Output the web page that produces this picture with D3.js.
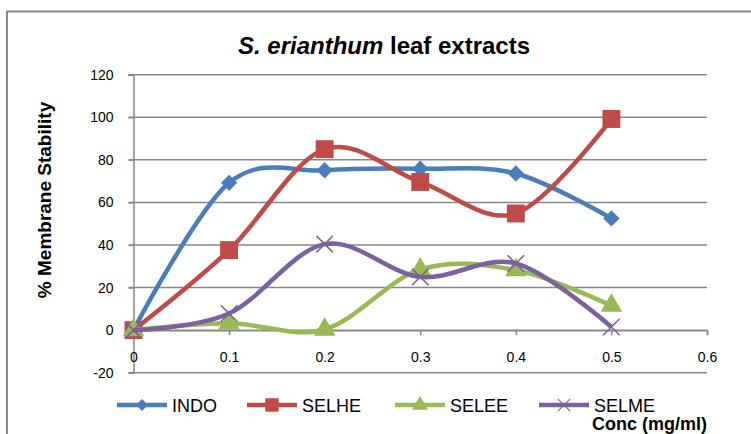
<!DOCTYPE html>
<html>
<head>
<meta charset="utf-8">
<script src="https://cdn.jsdelivr.net/npm/d3@7"></script>
<style>
  html, body { margin: 0; padding: 0; background: #fff; }
  svg { display: block; font-family: "Liberation Sans", Arial, sans-serif; }
</style>
</head>
<body>
<svg id="chart" width="751" height="434"></svg>
<script>
// data
const conc = [0, 0.1, 0.2, 0.3, 0.4, 0.5];
const indo  = [0, 69.2, 75.1, 75.8, 73.6, 52.5];
const selhe = [0, 37.6, 85, 69.6, 54.8, 99.2];
const selee = [0, 3.2, 0.3, 28.5, 28.2, 11.5];
const selme = [0, 7.8, 40.4, 25, 31.3, 1.5];

const seriesNames = ["INDO", "SELHE", "SELEE", "SELME"];
const seriesValues = [indo, selhe, selee, selme];
const colors = ["#4a7ebb", "#be4b48", "#98b954", "#7d60a0"];
const markers = ["diamond", "square", "triangle", "cross"];

const xTicks = [0, 0.1, 0.2, 0.3, 0.4, 0.5, 0.6];
const yTicks = [-20, 0, 20, 40, 60, 80, 100, 120];

const svg = d3.select("#chart");

// outer chart frame (cropped at right/bottom)
svg.append("path")
  .attr("d", "M7,434 V11.5 H751")
  .attr("fill", "none")
  .attr("stroke", "#888")
  .attr("stroke-width", 2);

const x = d3.scaleLinear().domain([0, 0.6]).range([133.5, 707]);
const y = d3.scaleLinear().domain([-20, 120]).range([372.7, 74.7]);

// gridlines
svg.append("g")
  .selectAll("line")
  .data(yTicks)
  .join("line")
  .attr("x1", x(0) - 5).attr("x2", x(0.6))
  .attr("y1", d => y(d)).attr("y2", d => y(d))
  .attr("stroke", "#878787")
  .attr("stroke-width", 1.5);

// y axis
const yAxis = svg.append("g")
  .attr("transform", `translate(${x(0)},0)`)
  .call(d3.axisLeft(y).tickValues(yTicks).tickSize(5).tickPadding(15).tickFormat(d => String(d)));
yAxis.select(".domain").attr("stroke", "#878787").attr("stroke-width", 1.5);
yAxis.selectAll(".tick line").attr("stroke", "#878787").attr("stroke-width", 1.5);
yAxis.selectAll("text").attr("font-size", 14).attr("fill", "#000")
  .style("font-family", "Liberation Sans, Arial, sans-serif");

// x axis crossing at 0
const xAxis = svg.append("g")
  .attr("transform", `translate(0,${y(0)})`)
  .call(d3.axisBottom(x).tickValues(xTicks).tickSize(5).tickPadding(17)
    .tickFormat(d => d === 0 ? "0" : d3.format(".1f")(d)));
xAxis.select(".domain").attr("stroke", "#878787").attr("stroke-width", 1.5);
xAxis.selectAll(".tick line").attr("stroke", "#878787").attr("stroke-width", 1.5);
xAxis.selectAll("text").attr("font-size", 14).attr("fill", "#000")
  .style("font-family", "Liberation Sans, Arial, sans-serif");

// lines
const line = d3.line()
  .x((d, i) => x(conc[i]))
  .y(d => y(d))
  .curve(d3.curveCardinal.tension(0));

const sym = {
  diamond: d3.symbol().type(d3.symbolDiamond2).size(170),
  square: d3.symbol().type(d3.symbolSquare).size(320),
  triangle: d3.symbol().type(d3.symbolTriangle).size(200),
  cross: d3.symbol().type(d3.symbolX).size(180)
};

function drawMarker(g, kind, color, cx, cy, scale) {
  const p = g.append("path")
    .attr("d", sym[kind]())
    .attr("transform", `translate(${cx},${cy}) scale(${scale || 1})`);
  if (kind === "cross") {
    p.attr("fill", "none").attr("stroke", color).attr("stroke-width", 1.5);
  } else {
    p.attr("fill", color);
  }
}

seriesValues.forEach((vals, s) => {
  const g = svg.append("g");
  g.append("path")
    .datum(vals)
    .attr("d", line)
    .attr("fill", "none")
    .attr("stroke", colors[s])
    .attr("stroke-width", 4.5)
    .attr("stroke-linejoin", "round");
  vals.forEach((v, i) => drawMarker(g, markers[s], colors[s], x(conc[i]), y(v)));
});

// title
const title = svg.append("text")
  .attr("x", 384).attr("y", 54)
  .attr("text-anchor", "middle")
  .attr("font-size", 24).attr("font-weight", "bold");
title.append("tspan").attr("font-style", "italic").text("S. erianthum");
title.append("tspan").text(" leaf extracts");

// y axis title
svg.append("text")
  .attr("transform", "translate(51,200) rotate(-90)")
  .attr("text-anchor", "middle")
  .attr("font-size", 19).attr("font-weight", "bold")
  .text("% Membrane Stability");

// legend
const legendX = [117, 247, 395, 539];
seriesNames.forEach((name, s) => {
  const g = svg.append("g").attr("transform", `translate(${legendX[s]},405)`);
  g.append("line").attr("x1", 0).attr("x2", 50).attr("y1", 0).attr("y2", 0)
    .attr("stroke", colors[s]).attr("stroke-width", 4.5);
  drawMarker(g, markers[s], colors[s], 25, 0, 0.75);
  g.append("text").attr("x", 55).attr("y", 6.5)
    .attr("font-size", 18).text(name);
});

// x axis title
svg.append("text")
  .attr("x", 592).attr("y", 430)
  .attr("font-size", 18).attr("font-weight", "bold")
  .text("Conc (mg/ml)");
</script>
</body>
</html>
